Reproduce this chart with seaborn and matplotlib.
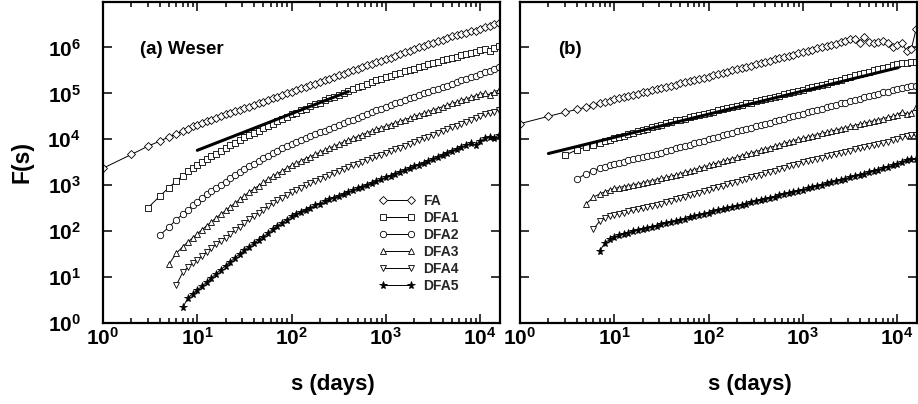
import numpy as np
import pandas as pd
import matplotlib
matplotlib.use("Agg")
import matplotlib.pyplot as plt
import seaborn as sns
from matplotlib.ticker import FixedLocator, LogLocator, NullFormatter, NullLocator, FixedFormatter

sns.set_theme(style="white")
plt.rcParams['font.family'] = ['Liberation Sans', 'DejaVu Sans']
plt.rcParams['mathtext.fontset'] = 'custom'
plt.rcParams['mathtext.rm'] = 'Liberation Sans:bold'
plt.rcParams['mathtext.bf'] = 'Liberation Sans:bold'
plt.rcParams['mathtext.it'] = 'Liberation Sans:bold:italic'
plt.rcParams['mathtext.default'] = 'bf'

# ---------------- data ----------------
s_days = [1, 2, 3, 4, 5, 6, 7, 8, 9, 10,
          11.2, 12.6, 14.1, 15.8, 17.8, 20.0, 22.4, 25.1, 28.2, 31.6,
          35.5, 39.8, 44.7, 50.1, 56.2, 63.1, 70.8, 79.4, 89.1, 100,
          112, 126, 141, 158, 178, 200, 224, 251, 282, 316,
          355, 398, 447, 501, 562, 631, 708, 794, 891, 1000,
          1122, 1259, 1413, 1585, 1778, 1995, 2239, 2512, 2818, 3162,
          3548, 3981, 4467, 5012, 5623, 6310, 7079, 7943, 8913, 10000,
          11220, 12589, 14125, 15849]

series_names = ["FA", "DFA1", "DFA2", "DFA3", "DFA4", "DFA5"]

# log10 F(s), panel (a) Weser
a_FA = [3.37, 3.67, 3.85, 3.96, 4.05, 4.11, 4.18, 4.23, 4.28, 4.32,
        4.36, 4.39, 4.43, 4.46, 4.50, 4.54, 4.57, 4.61, 4.64, 4.68,
        4.71, 4.75, 4.79, 4.82, 4.86, 4.89, 4.93, 4.96, 5.00, 5.03,
        5.07, 5.11, 5.14, 5.18, 5.21, 5.25, 5.28, 5.32, 5.36, 5.39,
        5.43, 5.46, 5.50, 5.53, 5.57, 5.61, 5.64, 5.68, 5.71, 5.75,
        5.78, 5.82, 5.86, 5.89, 5.93, 5.96, 6.00, 6.03, 6.07, 6.10,
        6.14, 6.17, 6.20, 6.24, 6.27, 6.30, 6.32, 6.36, 6.35, 6.40,
        6.44, 6.47, 6.50, 6.53]
a_DFA1 = [2.51, 2.76, 2.95, 3.09, 3.21, 3.30, 3.38, 3.45,
          3.51, 3.57, 3.63, 3.69, 3.75, 3.81, 3.87, 3.93, 3.98, 4.04,
          4.09, 4.14, 4.19, 4.24, 4.29, 4.34, 4.39, 4.44, 4.49, 4.54,
          4.58, 4.63, 4.67, 4.72, 4.76, 4.80, 4.85, 4.89, 4.93, 4.97,
          5.01, 5.05, 5.09, 5.13, 5.17, 5.21, 5.24, 5.28, 5.32, 5.35,
          5.38, 5.42, 5.45, 5.48, 5.51, 5.54, 5.57, 5.60, 5.63, 5.66,
          5.69, 5.72, 5.74, 5.77, 5.80, 5.84, 5.86, 5.88, 5.91, 5.95,
          5.97, 5.93, 5.99, 6.04]
a_DFA2 = [1.91, 2.09, 2.25, 2.37, 2.47, 2.56, 2.64,
          2.72, 2.80, 2.87, 2.94, 3.01, 3.08, 3.15, 3.22, 3.28, 3.35,
          3.41, 3.47, 3.53, 3.59, 3.64, 3.70, 3.75, 3.80, 3.85, 3.90,
          3.94, 3.99, 4.03, 4.07, 4.11, 4.15, 4.19, 4.23, 4.27, 4.31,
          4.35, 4.39, 4.43, 4.47, 4.51, 4.55, 4.59, 4.63, 4.67, 4.71,
          4.75, 4.78, 4.82, 4.86, 4.89, 4.93, 4.96, 5.00, 5.03, 5.07,
          5.10, 5.14, 5.17, 5.21, 5.24, 5.28, 5.31, 5.35, 5.38, 5.42,
          5.46, 5.49, 5.53, 5.57]
a_DFA3 = [1.28, 1.52, 1.66, 1.77, 1.86, 1.94,
          2.03, 2.12, 2.20, 2.29, 2.37, 2.45, 2.53, 2.61, 2.69, 2.77,
          2.85, 2.92, 2.99, 3.06, 3.13, 3.19, 3.25, 3.31, 3.37, 3.43,
          3.48, 3.53, 3.58, 3.62, 3.67, 3.72, 3.76, 3.81, 3.85, 3.89,
          3.94, 3.98, 4.02, 4.06, 4.10, 4.14, 4.18, 4.22, 4.25, 4.29,
          4.32, 4.36, 4.39, 4.43, 4.46, 4.50, 4.53, 4.57, 4.60, 4.64,
          4.67, 4.71, 4.74, 4.78, 4.81, 4.85, 4.88, 4.91, 4.95, 4.98,
          5.00, 4.97, 5.04, 5.07]
a_DFA4 = [0.83, 1.10, 1.22, 1.31, 1.38,
          1.46, 1.55, 1.63, 1.71, 1.79, 1.86, 1.94, 2.02, 2.10, 2.18,
          2.26, 2.33, 2.40, 2.47, 2.54, 2.61, 2.67, 2.73, 2.79, 2.85,
          2.90, 2.95, 3.00, 3.04, 3.09, 3.13, 3.18, 3.22, 3.26, 3.31,
          3.35, 3.39, 3.43, 3.47, 3.51, 3.55, 3.59, 3.63, 3.66, 3.70,
          3.74, 3.78, 3.82, 3.86, 3.90, 3.94, 3.98, 4.02, 4.06, 4.10,
          4.14, 4.18, 4.22, 4.26, 4.30, 4.34, 4.38, 4.42, 4.46, 4.50,
          4.54, 4.57, 4.60, 4.64]
a_DFA5 = [0.34, 0.55, 0.64, 0.72,
          0.80, 0.89, 0.98, 1.07, 1.16, 1.25, 1.33, 1.42, 1.50, 1.58,
          1.66, 1.74, 1.81, 1.88, 1.95, 2.04, 2.11, 2.18, 2.25, 2.32,
          2.37, 2.42, 2.47, 2.51, 2.56, 2.60, 2.65, 2.69, 2.73, 2.77,
          2.81, 2.85, 2.89, 2.93, 2.97, 3.01, 3.05, 3.09, 3.13, 3.17,
          3.21, 3.25, 3.29, 3.33, 3.37, 3.41, 3.45, 3.49, 3.53, 3.57,
          3.62, 3.66, 3.71, 3.75, 3.79, 3.83, 3.87, 3.91, 3.88, 3.96,
          4.02, 4.04, 4.03, 4.10]

# log10 F(s), panel (b)
b_FA = [4.34, 4.50, 4.59, 4.65, 4.70, 4.75, 4.78, 4.81, 4.84, 4.87,
        4.89, 4.92, 4.94, 4.97, 4.99, 5.02, 5.04, 5.07, 5.09, 5.12,
        5.14, 5.17, 5.19, 5.22, 5.24, 5.27, 5.29, 5.32, 5.34, 5.36,
        5.39, 5.42, 5.44, 5.47, 5.50, 5.52, 5.55, 5.58, 5.60, 5.63,
        5.66, 5.68, 5.71, 5.74, 5.76, 5.79, 5.82, 5.84, 5.87, 5.90,
        5.92, 5.95, 5.98, 6.00, 6.03, 6.06, 6.08, 6.11, 6.15, 6.19,
        6.18, 6.10, 6.22, 6.12, 6.09, 6.12, 6.14, 6.10, 6.01, 6.06,
        6.09, 5.92, 5.97, 6.40]
b_DFA1 = [3.65, 3.77, 3.83, 3.88, 3.92, 3.96, 3.99, 4.02,
          4.05, 4.08, 4.11, 4.14, 4.17, 4.20, 4.23, 4.26, 4.29, 4.32,
          4.35, 4.38, 4.41, 4.43, 4.45, 4.48, 4.50, 4.53, 4.55, 4.58,
          4.60, 4.63, 4.65, 4.68, 4.70, 4.73, 4.75, 4.78, 4.80, 4.83,
          4.85, 4.88, 4.90, 4.93, 4.95, 4.98, 5.00, 5.03, 5.05, 5.08,
          5.11, 5.13, 5.16, 5.19, 5.21, 5.24, 5.27, 5.30, 5.33, 5.36,
          5.39, 5.42, 5.45, 5.47, 5.50, 5.53, 5.55, 5.58, 5.61, 5.63,
          5.67, 5.66, 5.68, 5.68]
b_DFA2 = [3.13, 3.25, 3.32, 3.37, 3.40, 3.43, 3.46,
          3.49, 3.51, 3.54, 3.56, 3.59, 3.61, 3.64, 3.66, 3.69, 3.71,
          3.74, 3.77, 3.80, 3.83, 3.85, 3.88, 3.91, 3.94, 3.97, 4.00,
          4.03, 4.06, 4.09, 4.11, 4.14, 4.17, 4.20, 4.22, 4.25, 4.28,
          4.31, 4.34, 4.36, 4.39, 4.42, 4.45, 4.48, 4.50, 4.53, 4.56,
          4.59, 4.62, 4.64, 4.67, 4.70, 4.72, 4.75, 4.78, 4.80, 4.83,
          4.86, 4.88, 4.91, 4.94, 4.96, 4.99, 5.02, 5.04, 5.07, 5.09,
          5.11, 5.14, 5.16, 5.17]
b_DFA3 = [2.59, 2.74, 2.81, 2.86, 2.90, 2.93,
          2.95, 2.97, 2.99, 3.01, 3.03, 3.05, 3.08, 3.10, 3.12, 3.15,
          3.17, 3.20, 3.22, 3.25, 3.28, 3.31, 3.34, 3.37, 3.40, 3.43,
          3.46, 3.49, 3.52, 3.55, 3.58, 3.61, 3.64, 3.67, 3.70, 3.73,
          3.76, 3.79, 3.82, 3.85, 3.88, 3.91, 3.94, 3.97, 4.00, 4.02,
          4.05, 4.08, 4.10, 4.13, 4.15, 4.18, 4.20, 4.23, 4.25, 4.28,
          4.30, 4.33, 4.35, 4.38, 4.40, 4.43, 4.45, 4.48, 4.50, 4.53,
          4.60, 4.55, 4.58, 4.70]
b_DFA4 = [2.04, 2.22, 2.29, 2.33, 2.36,
          2.38, 2.40, 2.43, 2.45, 2.48, 2.50, 2.53, 2.55, 2.58, 2.60,
          2.63, 2.66, 2.69, 2.72, 2.75, 2.78, 2.81, 2.84, 2.87, 2.90,
          2.93, 2.96, 2.99, 3.02, 3.05, 3.08, 3.11, 3.14, 3.17, 3.20,
          3.23, 3.26, 3.29, 3.32, 3.35, 3.38, 3.41, 3.44, 3.47, 3.50,
          3.53, 3.55, 3.58, 3.60, 3.63, 3.65, 3.68, 3.70, 3.73, 3.75,
          3.78, 3.80, 3.83, 3.85, 3.88, 3.90, 3.93, 3.95, 3.98, 4.00,
          4.04, 4.07, 4.09, 4.09]
b_DFA5 = [1.57, 1.75, 1.82, 1.87,
          1.91, 1.94, 1.97, 2.00, 2.02, 2.05, 2.07, 2.10, 2.12, 2.15,
          2.17, 2.20, 2.22, 2.25, 2.27, 2.30, 2.33, 2.35, 2.38, 2.40,
          2.43, 2.45, 2.48, 2.50, 2.53, 2.55, 2.58, 2.60, 2.63, 2.65,
          2.68, 2.70, 2.73, 2.75, 2.78, 2.80, 2.83, 2.85, 2.88, 2.90,
          2.93, 2.96, 2.98, 3.01, 3.04, 3.06, 3.09, 3.12, 3.14, 3.17,
          3.20, 3.22, 3.25, 3.28, 3.31, 3.34, 3.37, 3.40, 3.43, 3.46,
          3.50, 3.55, 3.56, 3.56]

# straight guide lines (log10 F at the end points)
fit_a_s = [10, 400]
fit_a_logF = [3.76, 5.04]
fit_b_s = [2, 10230]
fit_b_logF = [3.69, 5.56]

panel_a = [a_FA, a_DFA1, a_DFA2, a_DFA3, a_DFA4, a_DFA5]
panel_b = [b_FA, b_DFA1, b_DFA2, b_DFA3, b_DFA4, b_DFA5]

# ---------------- styling ----------------
markers = {"FA": "D", "DFA1": "s", "DFA2": "o", "DFA3": "^", "DFA4": "v", "DFA5": "*"}
msizes = {"FA": 3.6, "DFA1": 4.3, "DFA2": 4.6, "DFA3": 4.8, "DFA4": 4.8, "DFA5": 5.8}
faces = {"FA": "white", "DFA1": "white", "DFA2": "white", "DFA3": "white", "DFA4": "white", "DFA5": "black"}

W, H = 918, 404
fig = plt.figure(figsize=(W / 100, H / 100), dpi=100)
ax_l, ax_r, ax_w = 103, 520, 397
ax_bottom, ax_top = 323, 1.5
axA = fig.add_axes([ax_l / W, 1 - ax_bottom / H, ax_w / W, (ax_bottom - ax_top) / H])
axB = fig.add_axes([ax_r / W, 1 - ax_bottom / H, ax_w / W, (ax_bottom - ax_top) / H])


def draw_panel(ax, values, fit_s, fit_logF):
    handles = []
    for name, logF in zip(series_names, values):
        s = s_days[-len(logF):]
        df = pd.DataFrame({"s": s, "F": np.power(10.0, logF)})
        sns.lineplot(data=df, x="s", y="F", ax=ax, estimator=None, sort=False,
                     color="black", linewidth=0.7, marker=markers[name],
                     markersize=msizes[name], markerfacecolor=faces[name],
                     markeredgecolor="black", markeredgewidth=0.6, legend=False)
        handles.append(ax.lines[-1])
    dff = pd.DataFrame({"s": fit_s, "F": np.power(10.0, fit_logF)})
    sns.lineplot(data=dff, x="s", y="F", ax=ax, estimator=None, sort=False,
                 color="black", linewidth=2.2, legend=False)
    return handles


def style_axis(ax, show_ylabels):
    ax.set_xscale("log")
    ax.set_yscale("log")
    ax.set_xlim(1, 16200)
    ax.set_ylim(1, 1e7)
    ax.xaxis.set_major_locator(FixedLocator([1, 10, 100, 1000, 10000]))
    ax.xaxis.set_major_formatter(FixedFormatter([r"$10^{%d}$" % k for k in range(5)]))
    ax.xaxis.set_minor_locator(LogLocator(base=10, subs=np.arange(2, 10), numticks=30))
    ax.xaxis.set_minor_formatter(NullFormatter())
    ax.yaxis.set_major_locator(FixedLocator([10.0 ** k for k in range(7)]))
    ax.yaxis.set_major_formatter(FixedFormatter([r"$10^{%d}$" % k for k in range(7)]))
    ax.yaxis.set_minor_locator(NullLocator())
    ax.set_xlabel("")
    ax.set_ylabel("")
    for sp in ax.spines.values():
        sp.set_color("black")
        sp.set_linewidth(1.6)
        sp.set_visible(True)
    ax.tick_params(which="both", direction="in", top=True, right=True,
                   bottom=True, left=True, color="black", width=1.1)
    ax.tick_params(which="major", length=6.5)
    ax.tick_params(which="minor", length=3.6)
    ax.tick_params(axis="x", which="major", pad=3, labelsize=15, labelcolor="black")
    ax.tick_params(axis="y", which="major", pad=16, labelsize=15, labelcolor="black",
                   labelleft=show_ylabels)
    ax.set_facecolor("white")


hA = draw_panel(axA, panel_a, fit_a_s, fit_a_logF)
draw_panel(axB, panel_b, fit_b_s, fit_b_logF)
style_axis(axA, True)
style_axis(axB, False)

for ax in (axA, axB):
    ax.set_xlabel("s (days)", fontsize=16, fontweight="bold", color="black")
    ax.xaxis.set_label_coords(0.58, -0.16)
axA.set_ylabel("F(s)", fontsize=16.5, fontweight="bold", color="black")
axA.yaxis.set_label_coords(-0.175, 0.5)

axA.text(0.093, 0.852, "(a) Weser", transform=axA.transAxes, fontsize=13.5,
         fontweight="bold", va="center", ha="left", color="black")
axB.text(0.096, 0.852, "(b)", transform=axB.transAxes, fontsize=13.5,
         fontweight="bold", va="center", ha="left", color="black")

leg = axA.legend(hA, series_names, loc="upper left", bbox_to_anchor=(0.695, 0.402),
                 frameon=False, numpoints=2, handlelength=2.6, handletextpad=0.6,
                 labelspacing=0.22, borderpad=0, borderaxespad=0,
                 prop={"weight": "bold", "size": 10})

fig.savefig("out.png", dpi=100, facecolor="white")
